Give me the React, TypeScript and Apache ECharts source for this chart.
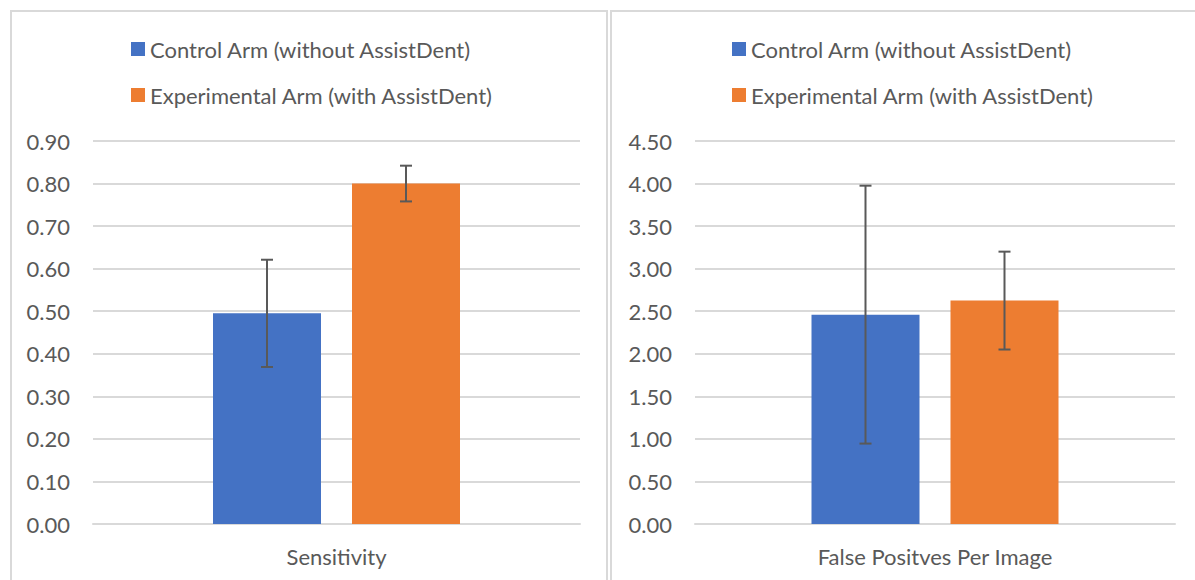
import React, { useEffect, useRef } from "react";
import * as echarts from "echarts";

const seriesNames = ["Control Arm (without AssistDent)", "Experimental Arm (with AssistDent)"];
const leftCategory = ["Sensitivity"];
const rightCategory = ["False Positves Per Image"];
const sensitivityMeans = [0.495, 0.80];
const sensitivityErrors = [0.126, 0.042];
const fpMeans = [2.46, 2.625];
const fpErrors = [1.515, 0.575];
const colors = ["#4472C4", "#ED7D31"];

const FONT = "Lato, 'Liberation Sans', sans-serif";
const TEXT_COLOR = "#595959";
const GRID_COLOR = "#d9d9d9";
const BAR_WIDTH = 108;
const BAR_GAP_PX = 31;

export default function App() {
  const ref = useRef<HTMLDivElement>(null);
  useEffect(() => {
    if (!ref.current) return;
    const chart = echarts.init(ref.current, null, { renderer: "svg" });
    const offsets = [-(BAR_WIDTH + BAR_GAP_PX) / 2, (BAR_WIDTH + BAR_GAP_PX) / 2];

    const errorSeries = (gridIdx: number, means: number[], errs: number[], s: number) => ({
      type: "custom",
      xAxisIndex: gridIdx,
      yAxisIndex: gridIdx,
      silent: true,
      z: 10,
      encode: { x: 0, y: 1 },
      data: [[0, means[s], errs[s]]],
      renderItem: (params: any, api: any) => {
        const c = api.value(0);
        const m = api.value(1);
        const e = api.value(2);
        const x = api.coord([c, m])[0] + offsets[s];
        const yHi = api.coord([c, m + e])[1];
        const yLo = api.coord([c, m - e])[1];
        const st = { stroke: "#595959", lineWidth: 2 };
        return {
          type: "group",
          children: [
            { type: "line", shape: { x1: x, y1: yHi, x2: x, y2: yLo }, style: st },
            { type: "line", shape: { x1: x - 6, y1: yHi, x2: x + 6, y2: yHi }, style: st },
            { type: "line", shape: { x1: x - 6, y1: yLo, x2: x + 6, y2: yLo }, style: st },
          ],
        };
      },
    });

    const barSeries = (gridIdx: number, means: number[], s: number) => ({
      type: "bar",
      name: seriesNames[s],
      xAxisIndex: gridIdx,
      yAxisIndex: gridIdx,
      barWidth: BAR_WIDTH,
      barGap: (BAR_GAP_PX / BAR_WIDTH) * 100 + "%",
      itemStyle: { color: colors[s] },
      data: [means[s]],
    });

    const legendCfg = (left: number) => ({
      left,
      top: 38,
      orient: "vertical",
      icon: "rect",
      itemWidth: 14,
      itemHeight: 14,
      itemGap: 24,
      itemTextGap: 5,
      padding: 0,
      textStyle: { fontFamily: FONT, fontSize: 22, lineHeight: 22, color: TEXT_COLOR },
      data: seriesNames,
    });

    const xAxisCfg = (gridIndex: number, cats: string[]) => ({
      type: "category",
      gridIndex,
      data: cats,
      axisLine: { lineStyle: { color: GRID_COLOR, width: 2 } },
      axisTick: { show: false },
      axisLabel: { fontFamily: FONT, fontSize: 22, color: TEXT_COLOR, margin: 21 },
    });

    const yAxisCfg = (gridIndex: number, max: number, interval: number) => ({
      type: "value",
      gridIndex,
      min: 0,
      max,
      interval,
      axisLine: { show: false },
      axisTick: { show: false },
      splitLine: { lineStyle: { color: GRID_COLOR, width: 2 } },
      axisLabel: {
        fontFamily: FONT,
        fontSize: 22,
        color: TEXT_COLOR,
        margin: 23,
        formatter: (v: number) => v.toFixed(2),
      },
    });

    chart.setOption({
      animation: false,
      backgroundColor: "#ffffff",
      legend: [legendCfg(131), legendCfg(732)],
      grid: [
        { left: 93, right: 1195 - 580, top: 141, bottom: 580 - 524 },
        { left: 695, right: 1195 - 1175, top: 141, bottom: 580 - 524 },
      ],
      xAxis: [xAxisCfg(0, leftCategory), xAxisCfg(1, rightCategory)],
      yAxis: [yAxisCfg(0, 0.9, 0.1), yAxisCfg(1, 4.5, 0.5)],
      graphic: [
        {
          type: "rect",
          shape: { x: 11, y: 11, width: 596, height: 620 },
          style: { fill: "none", stroke: GRID_COLOR, lineWidth: 2 },
          silent: true,
        },
        {
          type: "rect",
          shape: { x: 611, y: 11, width: 700, height: 620 },
          style: { fill: "none", stroke: GRID_COLOR, lineWidth: 2 },
          silent: true,
        },
      ],
      series: [
        barSeries(0, sensitivityMeans, 0),
        barSeries(0, sensitivityMeans, 1),
        barSeries(1, fpMeans, 0),
        barSeries(1, fpMeans, 1),
        errorSeries(0, sensitivityMeans, sensitivityErrors, 0),
        errorSeries(0, sensitivityMeans, sensitivityErrors, 1),
        errorSeries(1, fpMeans, fpErrors, 0),
        errorSeries(1, fpMeans, fpErrors, 1),
      ],
    });
    return () => chart.dispose();
  }, []);
  return (
    <div
      ref={ref}
      style={{ position: "absolute", left: 0, top: 0, width: 1195, height: 580 }}
    />
  );
}
